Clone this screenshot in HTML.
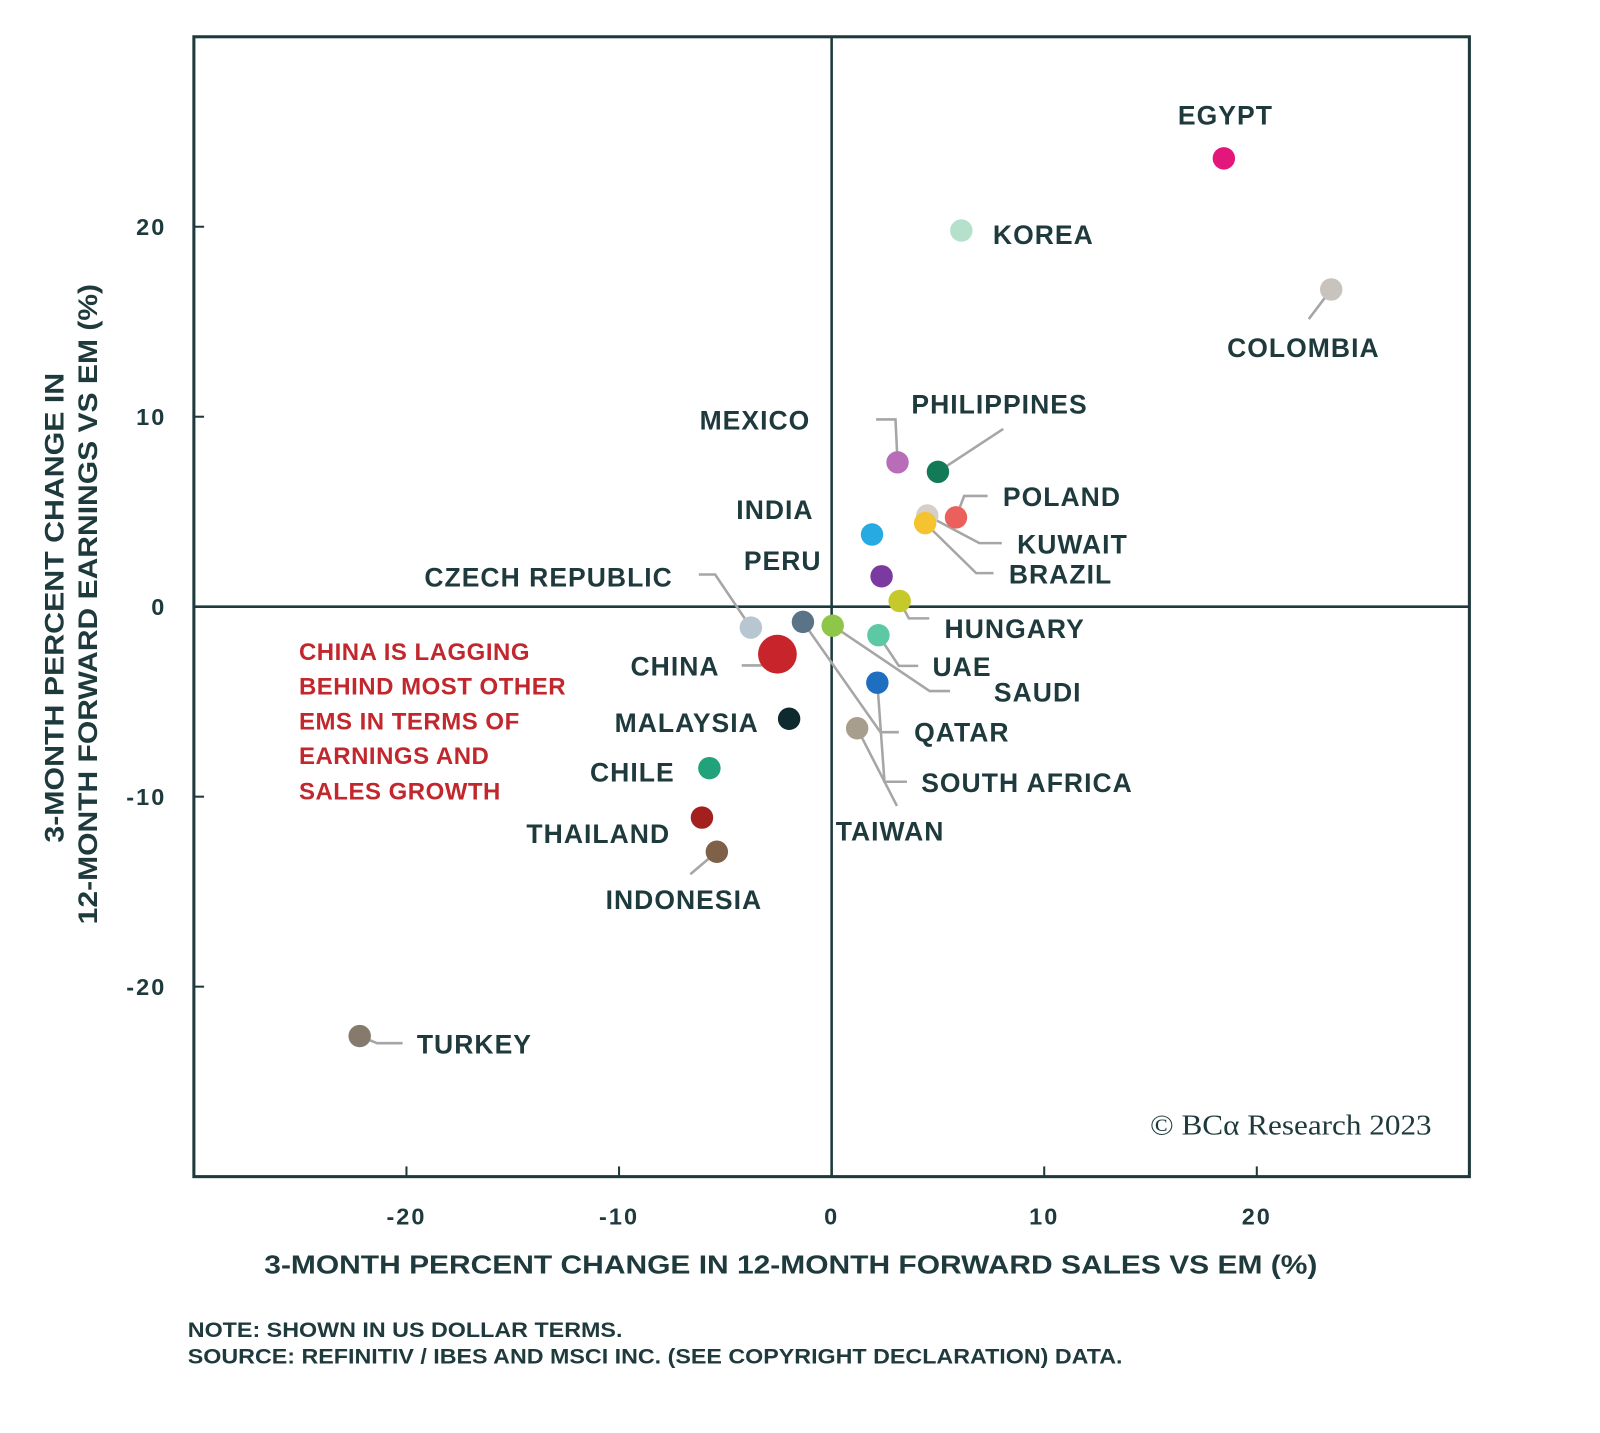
<!DOCTYPE html>
<html><head><meta charset="utf-8"><style>
html,body{margin:0;padding:0;background:#fff;}
svg{display:block;font-family:"Liberation Sans",sans-serif;}
.lbl{font-size:26px;font-weight:bold;fill:#1e3a3c;letter-spacing:1px;}
.tick{font-size:23px;font-weight:bold;fill:#1e3a3c;letter-spacing:2px;}
</style></head><body>
<svg id="chart" width="1600" height="1433" viewBox="0 0 1568 1403" preserveAspectRatio="none" xmlns="http://www.w3.org/2000/svg">
<rect x="190" y="36" width="1250" height="1116" fill="none" stroke="#1e3a3c" stroke-width="3"/>
<g id="axes"></g>
<g id="leaders"></g>
<g id="points"></g>
<g id="labels"></g>
<text x="293" y="646" font-size="23.5" font-weight="bold" fill="#c1272d" letter-spacing="0.5"><tspan x="293" y="646">CHINA IS LAGGING</tspan><tspan x="293" y="680">BEHIND MOST OTHER</tspan><tspan x="293" y="714">EMS IN TERMS OF</tspan><tspan x="293" y="748">EARNINGS AND</tspan><tspan x="293" y="783">SALES GROWTH</tspan></text>
<text x="1127" y="1111" font-family="Liberation Serif, serif" font-size="28" fill="#1e3a3c" textLength="276" lengthAdjust="spacingAndGlyphs">© BCα Research 2023</text>
<text x="259" y="1247" font-size="25" font-weight="bold" fill="#1e3a3c" textLength="1032" lengthAdjust="spacingAndGlyphs">3-MONTH PERCENT CHANGE IN 12-MONTH FORWARD SALES VS EM (%)</text>
<text transform="translate(62,825) rotate(-90)" font-size="26" font-weight="bold" fill="#1e3a3c" textLength="460" lengthAdjust="spacingAndGlyphs">3-MONTH PERCENT CHANGE IN</text>
<text transform="translate(95,905) rotate(-90)" font-size="26" font-weight="bold" fill="#1e3a3c" textLength="627" lengthAdjust="spacingAndGlyphs">12-MONTH FORWARD EARNINGS VS EM (%)</text>
<text x="184" y="1309" font-size="21" font-weight="bold" fill="#1e3a3c" textLength="426" lengthAdjust="spacingAndGlyphs">NOTE: SHOWN IN US DOLLAR TERMS.</text>
<text x="184" y="1335" font-size="21" font-weight="bold" fill="#1e3a3c" textLength="916" lengthAdjust="spacingAndGlyphs">SOURCE: REFINITIV / IBES AND MSCI INC. (SEE COPYRIGHT DECLARATION) DATA.</text>
</svg>
<script>
const countries = ["EGYPT","KOREA","COLOMBIA","MEXICO","PHILIPPINES","POLAND","KUWAIT","BRAZIL","INDIA","PERU","HUNGARY","CZECH REPUBLIC","CHINA","QATAR","SAUDI","UAE","SOUTH AFRICA","TAIWAN","MALAYSIA","CHILE","THAILAND","INDONESIA","TURKEY"];
const salesChange = [18.45,6.1,23.5,3.1,5.0,5.85,4.5,4.4,1.9,2.35,3.2,-3.8,-2.55,-1.35,0.05,2.2,2.15,1.2,-2.0,-5.75,-6.1,-5.4,-22.2];
const earningsChange = [23.6,19.8,16.7,7.6,7.1,4.7,4.8,4.4,3.8,1.6,0.3,-1.1,-2.5,-0.8,-1.0,-1.5,-4.0,-6.4,-5.9,-8.5,-11.1,-12.9,-22.6];
const xTicks = [-20,-10,0,10,20];
const yTicks = [-20,-10,0,10,20];
const colors = ["#e3167b","#b5e0cc","#c8c4bd","#b96db8","#137a57","#eb5f5c","#d4d0c8","#f5c230","#27aae1","#7a3aa0","#c5c92a","#b8c6d1","#c8242b","#5a7387","#8ec64a","#5cc8a4","#1f6ebf","#a89e8e","#0f2a2e","#21a27a","#a3201f","#7e6148","#857a6b"];
const layout = {
"EGYPT":{l:[-45,-33],p:null},
"KOREA":{l:[31,13],p:null},
"COLOMBIA":{l:[-102,66],p:[[-22,29]]},
"MEXICO":{l:[-194,-32],p:[[-2,-42],[-21,-42]]},
"PHILIPPINES":{l:[-26,-57],p:[[64,-42]]},
"POLAND":{l:[46,-11],p:[[8,-21],[31,-21]]},
"KUWAIT":{l:[88,37],p:[[51,27],[73,27]]},
"BRAZIL":{l:[82,59],p:[[50,49],[67,49]]},
"INDIA":{l:[-133,-15],p:null},
"PERU":{l:[-135,-6],p:null},
"HUNGARY":{l:[44,36],p:[[9,17],[29,17]]},
"CZECH REPUBLIC":{l:[-320,-40],p:[[-35,-52],[-51,-52]]},
"CHINA":{l:[-144,21],p:[[-16,11],[-35,11]]},
"QATAR":{l:[109,117],p:[[76,108],[94,108]]},
"SAUDI":{l:[158,74],p:[[95,64],[115,64]]},
"UAE":{l:[53,40],p:[[20,30],[39,30]]},
"SOUTH AFRICA":{l:[43,107],p:[[7,97],[29,97]]},
"TAIWAN":{l:[-21,110],p:[[39,76]]},
"MALAYSIA":{l:[-171,13],p:null},
"CHILE":{l:[-117,13],p:null},
"THAILAND":{l:[-172,25],p:null},
"INDONESIA":{l:[-109,56],p:[[-26,22]]},
"TURKEY":{l:[56,17],p:[[17,7],[42,7]]}
};
const NS="http://www.w3.org/2000/svg";
const X0=190,X1=1440,Y0=36,Y1=1152,DMIN=-30,DMAX=30;
function xs(v){return X0+(v-DMIN)/(DMAX-DMIN)*(X1-X0);}
function ys(v){return Y1-(v-DMIN)/(DMAX-DMIN)*(Y1-Y0);}
function mk(tag,attrs,parent){const e=document.createElementNS(NS,tag);for(const k in attrs)e.setAttribute(k,attrs[k]);parent.appendChild(e);return e;}
const axes=document.getElementById('axes');
let zl=mk('line',{x1:X0,x2:X1,y1:ys(0),y2:ys(0),stroke:'#1e3a3c','stroke-width':2.5},axes);


let zv=mk('line',{x1:xs(0),x2:xs(0),y1:Y0,y2:Y1,stroke:'#1e3a3c','stroke-width':2.5},axes);


xTicks.forEach(t=>{
  const tk=mk('line',{x1:xs(t),x2:xs(t),y1:Y1,y2:Y1-10,stroke:'#1e3a3c','stroke-width':2},axes);
  
  
  const tx=mk('text',{x:xs(t),y:1199,'text-anchor':'middle','class':'tick'},axes);
  tx.textContent=(t<0?'-':'')+Math.abs(t);
  
  
});
yTicks.forEach(t=>{
  const tk=mk('line',{x1:X0,x2:X0+10,y1:ys(t),y2:ys(t),stroke:'#1e3a3c','stroke-width':2},axes);
  
  
  const tx=mk('text',{x:163,y:ys(t)+8,'text-anchor':'end','class':'tick'},axes);
  tx.textContent=(t<0?'-':'')+Math.abs(t);
  
  
});
const gL=document.getElementById('leaders'),gP=document.getElementById('points'),gT=document.getElementById('labels');
countries.forEach((c,i)=>{
  const px=xs(salesChange[i]),py=ys(earningsChange[i]);
  const lay=layout[c];
  const slug=c.toLowerCase().replace(/ /g,'-');
  const dot=mk('circle',{cx:px,cy:py,r:c==='CHINA'?19:11,fill:colors[i]},gP);
  
  
  if(lay.p){
    const pts=[[px,py]].concat(lay.p.map(d=>[px+d[0],py+d[1]]));
    const pl=mk('polyline',{points:pts.map(p=>p.join(',')).join(' '),fill:'none',stroke:'#a6a6a6','stroke-width':2.5},gL);
    
    
  }
  const t=mk('text',{x:px+lay.l[0],y:py+lay.l[1],'class':'lbl'},gT);
  t.textContent=c;
  
  
});
</script>
</body></html>
